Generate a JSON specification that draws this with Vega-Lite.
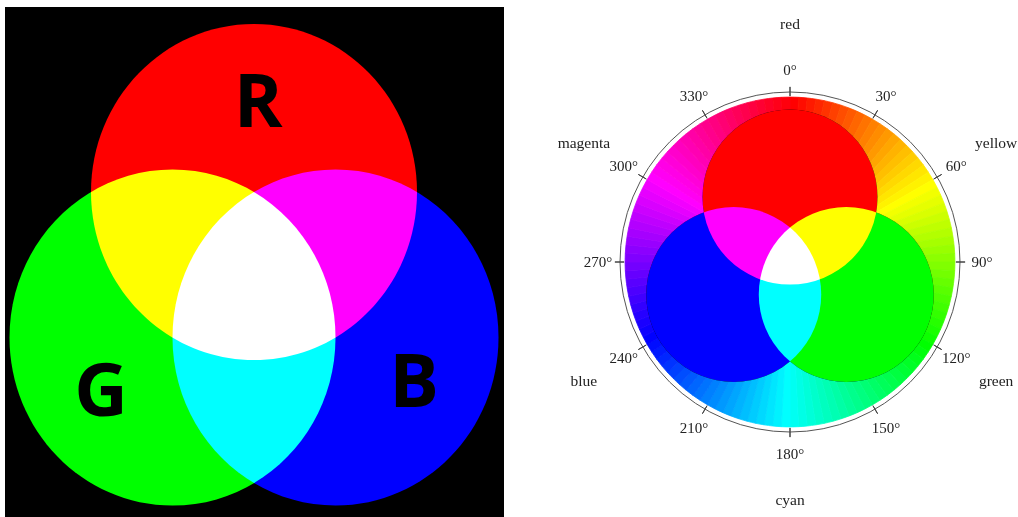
{
  "$schema": "https://vega.github.io/schema/vega-lite/v6.json",
  "background": "white",
  "padding": {"left": 5, "top": 7, "right": 0, "bottom": 0},
  "bounds": "flush",
  "spacing": 60,
  "config": {"view": {"stroke": null}},
  "hconcat": [
    {
      "width": 499,
      "height": 510,
      "view": {"fill": "#000000", "stroke": null},
      "layer": [
        {
          "data": {"values": [
            {"ch": "R", "x": 0, "y": 0.577},
            {"ch": "G", "x": -0.5, "y": -0.289},
            {"ch": "B", "x": 0.5, "y": -0.289}
          ]},
          "mark": {
            "type": "point", "filled": true, "opacity": 1, "strokeWidth": 0, "blend": "screen",
            "size": 106276,
            "shape": "M 1 0 C 1 0.5694 0.5523 1.031 0 1.031 C -0.5523 1.031 -1 0.5694 -1 0 C -1 -0.5694 -0.5523 -1.031 0 -1.031 C 0.5523 -1.031 1 -0.5694 1 0 Z"
          },
          "encoding": {
            "x": {"field": "x", "type": "quantitative", "scale": {"domain": [-1.5276, 1.5337], "nice": false, "zero": false}, "axis": null},
            "y": {"field": "y", "type": "quantitative", "scale": {"domain": [-1.357, 1.678], "nice": false, "zero": false}, "axis": null},
            "color": {"field": "ch", "type": "nominal", "scale": {"domain": ["R", "G", "B"], "range": ["#ff0000", "#00ff00", "#0000ff"]}, "legend": null}
          }
        },
        {
          "data": {"values": [
            {"t": "R", "x": 0.025, "y": 0.964},
            {"t": "G", "x": -0.939, "y": -0.756},
            {"t": "B", "x": 0.982, "y": -0.702}
          ]},
          "mark": {"type": "text", "font": "Open Sans", "fontWeight": "bold", "fontSize": 74, "align": "center", "baseline": "alphabetic", "fill": "#000000"},
          "encoding": {
            "x": {"field": "x", "type": "quantitative", "scale": {"domain": [-1.5276, 1.5337], "nice": false, "zero": false}, "axis": null},
            "y": {"field": "y", "type": "quantitative", "scale": {"domain": [-1.357, 1.678], "nice": false, "zero": false}, "axis": null},
            "text": {"field": "t", "type": "nominal"}
          }
        }
      ]
    },
    {
      "width": 452,
      "height": 510,
      "resolve": {"scale": {"color": "independent", "fill": "independent", "stroke": "independent"}},
      "layer": [
        {
          "data": {"values": [
            {"h":0,"h2":3},{"h":3,"h2":6},{"h":6,"h2":9},{"h":9,"h2":12},{"h":12,"h2":15},{"h":15,"h2":18},{"h":18,"h2":21},{"h":21,"h2":24},{"h":24,"h2":27},{"h":27,"h2":30},
            {"h":30,"h2":33},{"h":33,"h2":36},{"h":36,"h2":39},{"h":39,"h2":42},{"h":42,"h2":45},{"h":45,"h2":48},{"h":48,"h2":51},{"h":51,"h2":54},{"h":54,"h2":57},{"h":57,"h2":60},
            {"h":60,"h2":63},{"h":63,"h2":66},{"h":66,"h2":69},{"h":69,"h2":72},{"h":72,"h2":75},{"h":75,"h2":78},{"h":78,"h2":81},{"h":81,"h2":84},{"h":84,"h2":87},{"h":87,"h2":90},
            {"h":90,"h2":93},{"h":93,"h2":96},{"h":96,"h2":99},{"h":99,"h2":102},{"h":102,"h2":105},{"h":105,"h2":108},{"h":108,"h2":111},{"h":111,"h2":114},{"h":114,"h2":117},{"h":117,"h2":120},
            {"h":120,"h2":123},{"h":123,"h2":126},{"h":126,"h2":129},{"h":129,"h2":132},{"h":132,"h2":135},{"h":135,"h2":138},{"h":138,"h2":141},{"h":141,"h2":144},{"h":144,"h2":147},{"h":147,"h2":150},
            {"h":150,"h2":153},{"h":153,"h2":156},{"h":156,"h2":159},{"h":159,"h2":162},{"h":162,"h2":165},{"h":165,"h2":168},{"h":168,"h2":171},{"h":171,"h2":174},{"h":174,"h2":177},{"h":177,"h2":180},
            {"h":180,"h2":183},{"h":183,"h2":186},{"h":186,"h2":189},{"h":189,"h2":192},{"h":192,"h2":195},{"h":195,"h2":198},{"h":198,"h2":201},{"h":201,"h2":204},{"h":204,"h2":207},{"h":207,"h2":210},
            {"h":210,"h2":213},{"h":213,"h2":216},{"h":216,"h2":219},{"h":219,"h2":222},{"h":222,"h2":225},{"h":225,"h2":228},{"h":228,"h2":231},{"h":231,"h2":234},{"h":234,"h2":237},{"h":237,"h2":240},
            {"h":240,"h2":243},{"h":243,"h2":246},{"h":246,"h2":249},{"h":249,"h2":252},{"h":252,"h2":255},{"h":255,"h2":258},{"h":258,"h2":261},{"h":261,"h2":264},{"h":264,"h2":267},{"h":267,"h2":270},
            {"h":270,"h2":273},{"h":273,"h2":276},{"h":276,"h2":279},{"h":279,"h2":282},{"h":282,"h2":285},{"h":285,"h2":288},{"h":288,"h2":291},{"h":291,"h2":294},{"h":294,"h2":297},{"h":297,"h2":300},
            {"h":300,"h2":303},{"h":303,"h2":306},{"h":306,"h2":309},{"h":309,"h2":312},{"h":312,"h2":315},{"h":315,"h2":318},{"h":318,"h2":321},{"h":321,"h2":324},{"h":324,"h2":327},{"h":327,"h2":330},
            {"h":330,"h2":333},{"h":333,"h2":336},{"h":336,"h2":339},{"h":339,"h2":342},{"h":342,"h2":345},{"h":345,"h2":348},{"h":348,"h2":351},{"h":351,"h2":354},{"h":354,"h2":357},{"h":357,"h2":360}
          ]},
          "mark": {"type": "arc", "strokeWidth": 0.8},
          "encoding": {
            "theta": {"field": "h", "type": "quantitative", "stack": null, "scale": {"domain": [0, 360], "range": [0, 6.283185307179586]}},
            "theta2": {"field": "h2"},
            "radius": {"datum": 0.97, "type": "quantitative", "scale": {"type": "linear", "domain": [0, 1], "range": [0, 170], "zero": true}},
            "radius2": {"datum": 0},
            "fill": {"field": "h", "type": "quantitative", "legend": null, "scale": {"domain": [0, 60, 120, 180, 240, 300, 360], "range": ["#ff0000", "#ffff00", "#00ff00", "#00ffff", "#0000ff", "#ff00ff", "#ff0000"], "interpolate": "rgb"}},
            "stroke": {"field": "h", "type": "quantitative", "legend": null, "scale": {"domain": [0, 60, 120, 180, 240, 300, 360], "range": ["#ff0000", "#ffff00", "#00ff00", "#00ffff", "#0000ff", "#ff00ff", "#ff0000"], "interpolate": "rgb"}}
          }
        },
        {
          "data": {"values": [{"a0": 0, "a1": 360}]},
          "mark": {"type": "arc", "filled": false, "stroke": "#555555", "strokeWidth": 1},
          "encoding": {
            "theta": {"field": "a0", "type": "quantitative", "stack": null, "scale": {"domain": [0, 360], "range": [0, 6.283185307179586]}},
            "theta2": {"field": "a1"},
            "radius": {"datum": 1, "type": "quantitative", "scale": {"type": "linear", "domain": [0, 1], "range": [0, 170], "zero": true}}
          }
        },
        {
          "data": {"values": [
            {"a": 0}, {"a": 30}, {"a": 60}, {"a": 90}, {"a": 120}, {"a": 150},
            {"a": 180}, {"a": 210}, {"a": 240}, {"a": 270}, {"a": 300}, {"a": 330}
          ]},
          "mark": {"type": "arc", "filled": false, "stroke": "#444444", "strokeWidth": 1},
          "encoding": {
            "theta": {"field": "a", "type": "quantitative", "stack": null, "scale": {"domain": [0, 360], "range": [0, 6.283185307179586]}},
            "theta2": {"field": "a"},
            "radius": {"datum": 1.03, "type": "quantitative", "scale": {"type": "linear", "domain": [0, 1], "range": [0, 170], "zero": true}},
            "radius2": {"datum": 0.976}
          }
        },
        {
          "data": {"values": [
            {"a": 0, "l": "0°"}, {"a": 30, "l": "30°"}, {"a": 60, "l": "60°"}, {"a": 90, "l": "90°"},
            {"a": 120, "l": "120°"}, {"a": 150, "l": "150°"}, {"a": 180, "l": "180°"}, {"a": 210, "l": "210°"},
            {"a": 240, "l": "240°"}, {"a": 270, "l": "270°"}, {"a": 300, "l": "300°"}, {"a": 330, "l": "330°"}
          ]},
          "mark": {"type": "text", "font": "Liberation Serif", "fontSize": 15, "align": "center", "baseline": "middle", "fill": "#222222"},
          "encoding": {
            "theta": {"field": "a", "type": "quantitative", "stack": null, "scale": {"domain": [0, 360], "range": [0, 6.283185307179586]}},
            "radius": {"datum": 1.129, "type": "quantitative", "scale": {"type": "linear", "domain": [0, 1], "range": [0, 170], "zero": true}},
            "text": {"field": "l", "type": "nominal"}
          }
        },
        {
          "data": {"values": [
            {"a": 0, "l": "red"}, {"a": 60, "l": "yellow"}, {"a": 120, "l": "green"},
            {"a": 180, "l": "cyan"}, {"a": 240, "l": "blue"}, {"a": 300, "l": "magenta"}
          ]},
          "mark": {"type": "text", "font": "Liberation Serif", "fontSize": 15.5, "align": "center", "baseline": "middle", "fill": "#222222"},
          "encoding": {
            "theta": {"field": "a", "type": "quantitative", "stack": null, "scale": {"domain": [0, 360], "range": [0, 6.283185307179586]}},
            "radius": {"datum": 1.4, "type": "quantitative", "scale": {"type": "linear", "domain": [0, 1], "range": [0, 170], "zero": true}},
            "text": {"field": "l", "type": "nominal"}
          }
        },
        {
          "data": {"values": [
            {"ch": "R", "x": 0, "y": 0.382},
            {"ch": "G", "x": 0.331, "y": -0.191},
            {"ch": "B", "x": -0.331, "y": -0.191}
          ]},
          "mark": {"type": "point", "shape": "circle", "filled": true, "opacity": 1, "strokeWidth": 0, "size": 30625, "fill": "#000000"},
          "encoding": {
            "x": {"field": "x", "type": "quantitative", "scale": {"domain": [-1.3294, 1.3294], "nice": false, "zero": false}, "axis": null},
            "y": {"field": "y", "type": "quantitative", "scale": {"domain": [-1.5, 1.5], "nice": false, "zero": false}, "axis": null}
          }
        },
        {
          "data": {"values": [
            {"ch": "R", "x": 0, "y": 0.382},
            {"ch": "G", "x": 0.331, "y": -0.191},
            {"ch": "B", "x": -0.331, "y": -0.191}
          ]},
          "mark": {"type": "point", "shape": "circle", "filled": true, "opacity": 1, "strokeWidth": 0, "size": 30625, "blend": "screen"},
          "encoding": {
            "x": {"field": "x", "type": "quantitative", "scale": {"domain": [-1.3294, 1.3294], "nice": false, "zero": false}, "axis": null},
            "y": {"field": "y", "type": "quantitative", "scale": {"domain": [-1.5, 1.5], "nice": false, "zero": false}, "axis": null},
            "color": {"field": "ch", "type": "nominal", "scale": {"domain": ["R", "G", "B"], "range": ["#ff0000", "#00ff00", "#0000ff"]}, "legend": null}
          }
        }
      ]
    }
  ]
}
